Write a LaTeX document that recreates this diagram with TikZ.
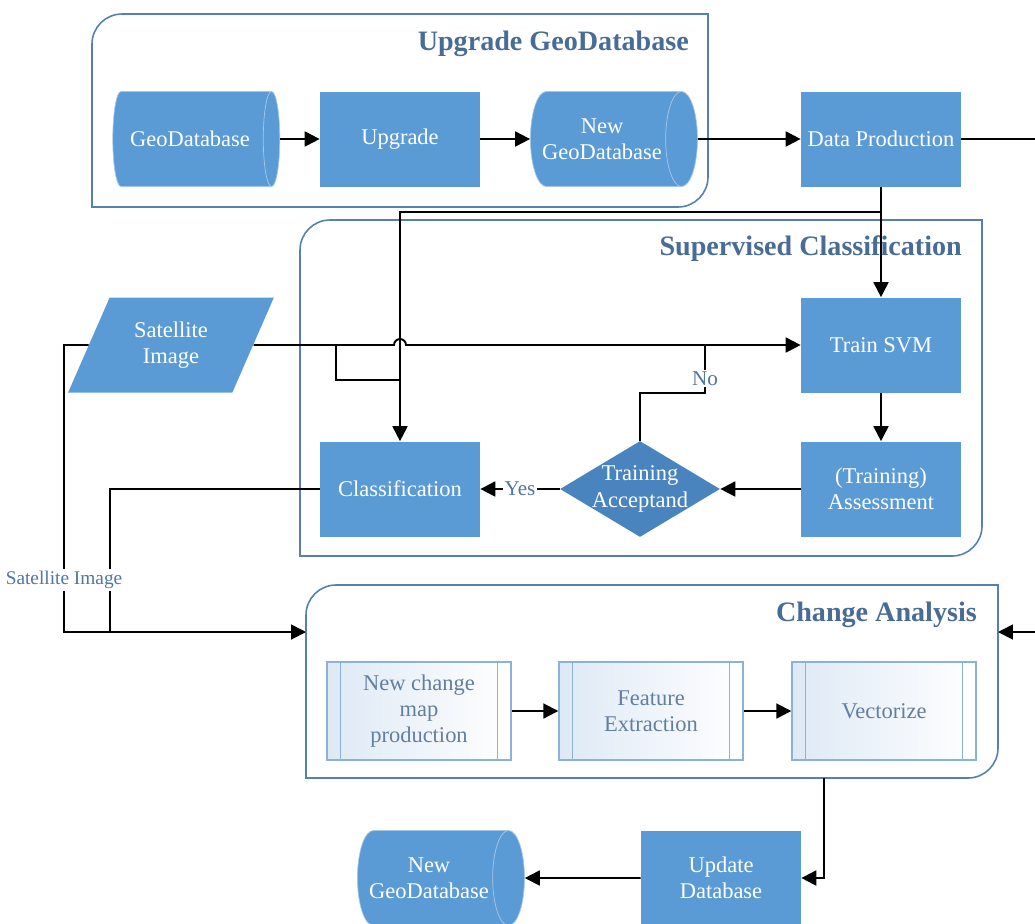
\documentclass[tikz,border=0pt]{standalone}
\usepackage{fontspec}
\setmainfont{Liberation Serif}
\usepackage{tikz}
\usetikzlibrary{shapes,arrows.meta,positioning,calc}
\definecolor{geoblue}{RGB}{91,155,213}
\definecolor{geodark}{RGB}{74,132,190}
\definecolor{geoframe}{RGB}{84,128,178}
\definecolor{geotitle}{RGB}{72,108,150}
\definecolor{geolabel}{RGB}{80,118,165}
\definecolor{subframe}{RGB}{140,178,216}
\definecolor{subfill}{RGB}{222,233,245}
\definecolor{subtext}{RGB}{98,126,160}
\tikzset{
    boxfont/.style={font=\fontsize{12.8}{15}\selectfont},
    block/.style={rectangle, fill=geoblue, text=white, align=center, minimum width=3.2cm, minimum height=1.9cm, boxfont},
    storage/.style={cylinder, fill=geoblue, draw=geoblue!55!white, line width=0.4pt, text=white, align=center, aspect=0.6, inner xsep=1pt, minimum width=1.9cm, minimum height=3.34cm, boxfont},
    decision/.style={diamond, fill=geodark, text=white, align=center, minimum width=3.2cm, minimum height=1.92cm, inner sep=-6pt, aspect=1.67, boxfont},
    io/.style={trapezium, trapezium left angle=63.7, trapezium right angle=116.3, trapezium stretches=true, fill=geoblue, text=white, align=center, minimum width=4.14cm, minimum height=1.9cm, boxfont},
    subproc/.style={rectangle, draw=subframe, line width=0.8pt, left color=subfill, right color=white, text=subtext, align=center, minimum width=3.68cm, minimum height=1.96cm, boxfont},
    group/.style={draw=geoframe, line width=0.9pt},
    grouptitle/.style={anchor=east, text=geotitle, font=\bfseries\fontsize{16}{18}\selectfont},
    line/.style={draw, line width=1.1pt, -{Triangle[length=8.5pt,width=8.5pt]}},
    wire/.style={draw, line width=1.1pt},
    tag/.style={fill=white, text=geolabel, inner sep=1pt, font=\fontsize{12}{14}\selectfont}
}

\begin{document}
\begin{tikzpicture}
    \useasboundingbox (0,0) rectangle (20.7,-18.46);

    % Group frames
    \draw[group] (1.84,-4.14) -- (1.84,-0.88) arc (180:90:0.6) -- (14.16,-0.28) -- (14.16,-3.54) arc (0:-90:0.6) -- cycle;
    \draw[group] (6.0,-11.12) -- (6.0,-5.0) arc (180:90:0.6) -- (19.64,-4.4) -- (19.64,-10.52) arc (0:-90:0.6) -- cycle;
    \draw[group] (6.12,-15.56) -- (6.12,-12.3) arc (180:90:0.6) -- (19.96,-11.7) -- (19.96,-14.96) arc (0:-90:0.6) -- cycle;
    \node[grouptitle] (tup) at (13.9,-0.88) {Upgrade GeoDatabase};
    \node[grouptitle] (tsup) at (19.36,-4.98) {Supervised Classification};
    \node[grouptitle] (tchg) at (19.66,-12.3) {Change Analysis};

    % Upgrade GeoDatabase
    \node[storage] (gdb) at (3.8,-2.78) {GeoDatabase};
    \node[block] (upg) at (8,-2.78) {Upgrade};
    \node[storage] (newgdb) at (12.04,-2.78) {New\\GeoDatabase};
    \node[block] (dataprod) at (17.62,-2.78) {Data Production};

    % Supervised Classification
    \node[io] (satimg) at (3.42,-6.9) {Satellite\\Image};
    \node[block] (trainsvm) at (17.62,-6.9) {Train SVM};
    \node[block] (assess) at (17.62,-9.78) {(Training)\\Assessment};
    \node[decision] (accept) at (12.8,-9.78) {Training\\Acceptand};
    \node[block] (classif) at (8,-9.78) {Classification};

    % Change Analysis
    \node[subproc] (ncm) at (8.38,-14.22) {New change\\map\\production};
    \node[subproc] (feat) at (13.02,-14.22) {Feature\\Extraction};
    \node[subproc] (vect) at (17.68,-14.22) {Vectorize};
    \foreach \n in {ncm,feat,vect} {
        \draw[subframe, line width=0.8pt] ([xshift=0.28cm]\n.north west) -- ([xshift=0.28cm]\n.south west);
        \draw[subframe, line width=0.8pt] ([xshift=-0.28cm]\n.north east) -- ([xshift=-0.28cm]\n.south east);
    }

    % Update
    \node[block] (upddb) at (14.42,-17.56) {Update\\Database};
    \node[storage] (newgdb2) at (8.58,-17.56) {New\\GeoDatabase};

    % Junctions
    \coordinate (split) at (17.62,-4.24);
    \coordinate (hop) at (8,-6.9);
    \coordinate (satsplit) at (6.72,-6.9);
    \coordinate (clsjoin) at (8,-7.6);
    \coordinate (noturn) at (14.1,-7.86);
    \coordinate (nojoin) at (14.1,-6.9);
    \coordinate (satcorner) at (1.28,-6.9);
    \coordinate (satlow) at (1.28,-12.64);
    \coordinate (clslow) at (2.2,-12.64);
    \coordinate (dpright) at (20.9,-2.78);
    \coordinate (chgW) at (6.12,-12.64);
    \coordinate (chgE) at (19.96,-12.64);
    \coordinate (chgS) at (16.48,-15.56);

    % Connections
    \path[line] (gdb.east) -- (upg.west);
    \path[line] (upg.east) -- (newgdb.west);
    \path[line] (newgdb.east) -- (dataprod.west);
    \path[line] (dataprod.south) -- (trainsvm.north);
    \path[line] (split) -| (classif.north);
    \path[line] (satimg.east) -- ([xshift=-0.12cm]hop) arc (180:0:0.12) -- (trainsvm.west);
    \path[wire] (satsplit) |- (clsjoin);
    \path[line] (trainsvm.south) -- (assess.north);
    \path[line] (assess.west) -- (accept.east);
    \path[line] (accept.west) -- node[tag] {Yes} (classif.east);
    \path[wire] (accept.north) |- (noturn) -- node[tag, pos=0.3] {No} (nojoin);
    \path[line] (satimg.west) -- (satcorner) -- (satlow) -- (chgW);
    \path[wire] (classif.west) -| (clslow);
    \node[tag, font=\fontsize{11}{13}\selectfont] (satlabel) at (1.28,-11.6) {Satellite Image};
    \path[line] (dataprod.east) -- (dpright) |- (chgE);
    \path[line] (chgS) |- (upddb.east);
    \path[line] (upddb.west) -- (newgdb2.east);
    \path[line] (ncm) -- (feat);
    \path[line] (feat) -- (vect);
\end{tikzpicture}
\end{document}
